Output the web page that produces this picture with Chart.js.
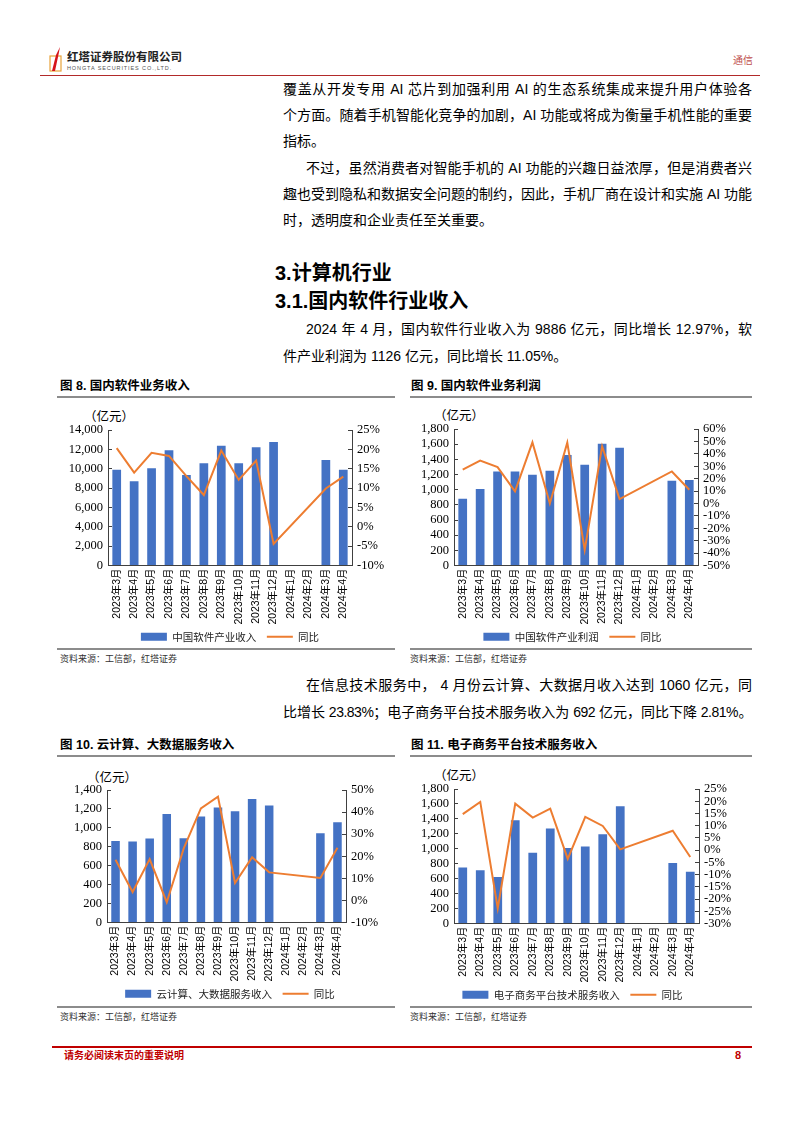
<!DOCTYPE html>
<html><head><meta charset="utf-8">
<script src="https://cdn.jsdelivr.net/npm/chart.js@4.4.1/dist/chart.umd.min.js"></script>
<style>
html,body{margin:0;padding:0;background:#fff;}
#page{position:relative;width:802px;height:1133px;overflow:hidden;font-family:"Liberation Sans","Noto Sans CJK SC",sans-serif;color:#000;}
.t{position:absolute;white-space:nowrap;line-height:20px;height:20px;}
.b{font-size:14px;}
.j{text-align:justify;text-align-last:justify;white-space:normal;overflow:hidden;}
.h{font-weight:bold;font-size:20px;line-height:24px;height:24px;}
.ft{font-weight:bold;font-size:12.5px;}
.src{font-size:9px;color:#333;}
.gl{position:absolute;height:1.5px;background:#8c8c8c;}
.unit{position:absolute;font-size:12.5px;line-height:16px;font-family:"Noto Sans CJK SC",sans-serif;color:#000;}
canvas{position:absolute;}
</style></head>
<body><div id="page">
<!-- header -->
<svg style="position:absolute;left:49px;top:46px" width="14" height="27" viewBox="0 0 14 27">
  <rect x="1" y="10" width="11" height="15" fill="none" stroke="#e8a33a" stroke-width="1.2"/>
  <path d="M3 25 L7 9 L11 1 L9 11 L6 25 Z" fill="#d6131b"/>
</svg>
<div class="t" style="left:67px;top:49px;font-size:11.5px;font-weight:bold;color:#222;line-height:16px;">红塔证券股份有限公司</div>
<div class="t" style="left:67px;top:64px;font-size:5.5px;color:#555;letter-spacing:0.9px;line-height:8px;">HONGTA SECURITIES CO.,LTD.</div>
<div class="t" style="left:733px;top:53px;font-size:10px;color:#c0504d;line-height:16px;">通信</div>
<div style="position:absolute;left:40px;top:75px;width:720px;height:1px;background:#b22a2a;"></div>

<!-- paragraph 1 -->
<div class="t b j" style="left:283px;top:79px;width:469px;">覆盖从开发专用 AI 芯片到加强利用 AI 的生态系统集成来提升用户体验各</div>
<div class="t b j" style="left:283px;top:105px;width:469px;">个方面。随着手机智能化竞争的加剧，AI 功能或将成为衡量手机性能的重要</div>
<div class="t b" style="left:283px;top:131px;">指标。</div>
<div class="t b j" style="left:306px;top:158px;width:446px;">不过，虽然消费者对智能手机的 AI 功能的兴趣日益浓厚，但是消费者兴</div>
<div class="t b j" style="left:283px;top:184px;width:469px;">趣也受到隐私和数据安全问题的制约，因此，手机厂商在设计和实施 AI 功能</div>
<div class="t b" style="left:283px;top:210px;">时，透明度和企业责任至关重要。</div>

<div class="t h" style="left:275px;top:261px;">3.计算机行业</div>
<div class="t h" style="left:275px;top:289px;">3.1.国内软件行业收入</div>
<div class="t b j" style="left:306px;top:319px;width:446px;">2024 年 4 月，国内软件行业收入为 9886 亿元，同比增长 12.97%，软</div>
<div class="t b" style="left:283px;top:346px;">件产业利润为 1126 亿元，同比增长 11.05%。</div>

<div class="t ft" style="left:60px;top:376px;">图 8. 国内软件业务收入</div>
<div class="t ft" style="left:411px;top:376px;">图 9. 国内软件业务利润</div>
<div class="gl" style="left:57px;top:396px;width:338px;"></div>
<div class="gl" style="left:410px;top:396px;width:342px;"></div>

<div class="unit" style="left:84px;top:408px;">（亿元）</div>
<div class="unit" style="left:434px;top:407px;">（亿元）</div>

<div class="gl" style="left:57px;top:648px;width:338px;"></div>
<div class="gl" style="left:410px;top:648px;width:342px;"></div>
<div class="t src" style="left:60px;top:649px;">资料来源：工信部，红塔证券</div>
<div class="t src" style="left:410px;top:649px;">资料来源：工信部，红塔证券</div>

<div class="t b j" style="left:306px;top:675px;width:446px;">在信息技术服务中， 4 月份云计算、大数据月收入达到 1060 亿元，同</div>
<div class="t b j" style="left:283px;top:702px;width:469px;letter-spacing:-0.5px;">比增长 23.83%；电子商务平台技术服务收入为 692 亿元，同比下降 2.81%。</div>

<div class="t ft" style="left:60px;top:735px;">图 10. 云计算、大数据服务收入</div>
<div class="t ft" style="left:411px;top:735px;">图 11. 电子商务平台技术服务收入</div>
<div class="gl" style="left:57px;top:755px;width:338px;"></div>
<div class="gl" style="left:410px;top:755px;width:342px;"></div>

<div class="unit" style="left:87px;top:769px;">（亿元）</div>
<div class="unit" style="left:434px;top:767px;">（亿元）</div>

<div class="gl" style="left:57px;top:1006px;width:338px;"></div>
<div class="gl" style="left:410px;top:1006px;width:342px;"></div>
<div class="t src" style="left:60px;top:1007px;">资料来源：工信部，红塔证券</div>
<div class="t src" style="left:410px;top:1007px;">资料来源：工信部，红塔证券</div>

<!-- footer -->
<div style="position:absolute;left:52px;top:1046px;width:700px;height:2px;background:#c00000;"></div>
<div class="t" style="left:64px;top:1046px;font-size:10px;font-weight:bold;color:#c00000;">请务必阅读末页的重要说明</div>
<div class="t" style="left:735px;top:1045px;font-size:11px;font-weight:bold;color:#c00000;">8</div>

<canvas id="c1" width="340" height="248" style="left:60px;top:404px;"></canvas>
<canvas id="c2" width="335" height="248" style="left:405px;top:404px;"></canvas>
<canvas id="c3" width="340" height="245" style="left:60px;top:764px;"></canvas>
<canvas id="c4" width="335" height="246" style="left:405px;top:764px;"></canvas>
</div>
<script>
// ---- data ----
const months = ['2023年3月','2023年4月','2023年5月','2023年6月','2023年7月','2023年8月','2023年9月','2023年10月','2023年11月','2023年12月','2024年1月','2024年2月','2024年3月','2024年4月'];
const softwareRevenue    = [9900, 8700, 10050, 11900, 9350, 10560, 12380, 10560, 12210, 12760, null, null, 10900, 9886];
const softwareRevenueYoY = [20.3, 14.0, 19.1, 18.3, 13.1, 8.2, 19.7, 12.1, 17.1, -4.4, null, null, 9.9, 12.97];
const softwareProfit     = [880, 1008, 1241, 1241, 1197, 1250, 1457, 1329, 1606, 1553, null, null, 1118, 1126];
const softwareProfitYoY  = [27.2, 34.5, 29.3, 9.7, 49.2, 0.0, 49.0, -37.4, 46.0, 3.5, null, null, 25.8, 11.05];
const cloudRevenue       = [860, 856, 888, 1147, 891, 1119, 1214, 1175, 1305, 1235, null, null, 944, 1060];
const cloudYoY           = [18.4, 3.8, 18.7, -0.8, 23.7, 41.7, 47.0, 7.9, 19.5, 12.7, null, null, 10.2, 23.83];
const ecomRevenue        = [751, 711, 622, 1382, 947, 1271, 1009, 1031, 1196, 1569, null, null, 809, 692];
const ecomYoY            = [14.7, 19.7, -23.8, 19.0, 13.3, 17.0, -3.6, 13.6, 9.9, 0.3, null, null, 7.9, -2.81];
// axis ranges [min, max, step]
const revAxis = [0, 14000, 2000],   revPctAxis = [-10, 25, 5];
const profAxis = [0, 1800, 200],    profPctAxis = [-50, 60, 10];
const cloudAxis = [0, 1400, 200],   cloudPctAxis = [-10, 50, 10];
const ecomAxis = [0, 1800, 200],    ecomPctAxis = [-30, 25, 5];

const SERIF = '"Liberation Serif","Noto Sans CJK SC",serif';
const SANS = '"Liberation Sans","Noto Sans CJK SC",sans-serif';
const AX = '#404040';

function makeChart(id, barLabel, bars, yoy, la, ra, L) {
  return new Chart(document.getElementById(id), {
    data: {
      labels: months,
      datasets: [
        {type:'bar', label: barLabel + '  ', data: bars, backgroundColor:'#4472C4', yAxisID:'y', order:2,
         barPercentage:0.5, categoryPercentage:1, pointStyle:'rect'},
        {type:'line', label:'同比', data: yoy, borderColor:'#ED7D31', backgroundColor:'#ED7D31',
         borderWidth:2, pointBorderWidth:2, pointRadius:0, spanGaps:true, tension:0, yAxisID:'y1', order:1, pointStyle:'line'}
      ]
    },
    options: {
      responsive:false, animation:false, devicePixelRatio:1,
      layout:{padding:{top:L.top, left:0, right:0, bottom:0}},
      plugins:{
        legend:{position:'bottom', labels:{usePointStyle:true, pointStyleWidth:26, boxHeight:8, padding:6,
          sort:(a,b)=>a.datasetIndex-b.datasetIndex,
          color:'#222', font:{family:'"Noto Sans CJK SC",sans-serif', size:10.5}}},
        tooltip:{enabled:false}
      },
      scales:{
        x:{grid:{display:false, drawTicks:false}, border:{color:AX, width:1},
           ticks:{minRotation:90, maxRotation:90, autoSkip:false, padding:3, color:'#000', font:{family:SANS, size:10.5}},
           afterFit(s){ s.height = L.xh; }},
        y:{position:'left', min:la[0], max:la[1],
           ticks:{stepSize:la[2], autoSkip:false, padding:9, color:'#000', font:{family:SERIF, size:12.5},
                  callback:v=>v.toLocaleString('en-US')},
           grid:{drawOnChartArea:false, tickLength:-4, color:AX}, border:{color:AX, width:1},
           afterFit(s){ s.width = L.lw; }},
        y1:{position:'right', min:ra[0], max:ra[1],
           ticks:{stepSize:ra[2], autoSkip:false, padding:9, color:'#000', font:{family:SERIF, size:12.5},
                  callback:v=>v+'%'},
           grid:{drawOnChartArea:false, tickLength:-4, color:AX}, border:{color:AX, width:1},
           afterFit(s){ s.width = L.rw; }}
      }
    }
  });
}

makeChart('c1', '中国软件产业收入', softwareRevenue, softwareRevenueYoY, revAxis, revPctAxis, {top:26, xh:60, lw:48, rw:48});
makeChart('c2', '中国软件产业利润', softwareProfit, softwareProfitYoY, profAxis, profPctAxis, {top:25, xh:60, lw:49, rw:42});
makeChart('c3', '云计算、大数据服务收入', cloudRevenue, cloudYoY, cloudAxis, cloudPctAxis, {top:26, xh:60, lw:47, rw:54});
makeChart('c4', '电子商务平台技术服务收入', ecomRevenue, ecomYoY, ecomAxis, ecomPctAxis, {top:25, xh:60, lw:49, rw:41});
</script>
</body></html>
